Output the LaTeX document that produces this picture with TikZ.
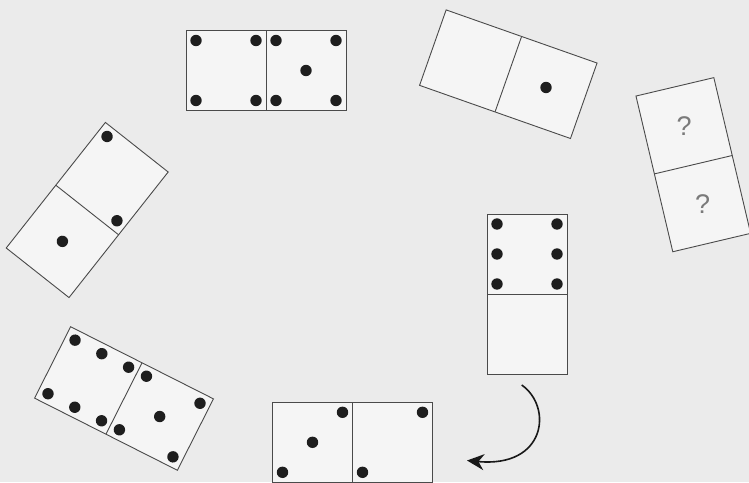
\documentclass[tikz,border=0pt]{standalone}
\usepackage{fontspec}
\newfontfamily\qfont{Liberation Sans}
\usetikzlibrary{arrows.meta}
\definecolor{bg}{HTML}{EBEBEB}
\definecolor{face}{HTML}{F5F5F5}
\definecolor{edge}{HTML}{4A4A4A}
\definecolor{pipc}{HTML}{1E1E1E}
\definecolor{qgray}{HTML}{7A7A7A}
\tikzset{
  dominobox/.style={draw=edge, fill=face, line width=0.9pt},
  divider/.style={draw=edge, line width=0.9pt},
  pip/.style={fill=pipc},
  qmark/.style={text=qgray, inner sep=0pt, font=\qfont\fontsize{27}{27}\selectfont},
  turnarrow/.style={-{Stealth[length=17pt,width=16pt]}, line width=1.6pt, draw=black!90}
}
\begin{document}
\begin{tikzpicture}[x=1pt,y=1pt]
\path[use as bounding box, fill=bg] (0,0) rectangle (749,482);

% domino 1: 4 | 5 (top)
\begin{scope}[shift={(266,411.5)}]
  \path[dominobox] (-80,-40) rectangle (80,40);
  \path[divider] (0,-40) -- (0,40);
  \foreach \p in {(-70,30),(-10,30),(-70,-30),(-10,-30),(10,30),(70,30),(40,0),(10,-30),(70,-30)}
    \fill[pip] \p circle (5.7);
\end{scope}

% domino 2: 0 | 1 (top right, tilted)
\begin{scope}[shift={(508.3,407.8)}, rotate=-19.4]
  \path[dominobox] (-80,-40) rectangle (80,40);
  \path[divider] (0,-40) -- (0,40);
  \fill[pip] (40,0) circle (5.7);
\end{scope}

% domino 3: ? / ? (right)
\begin{scope}[shift={(693.3,317.3)}, rotate=13.3]
  \path[dominobox] (-40,-80) rectangle (40,80);
  \path[divider] (-40,0) -- (40,0);
  \node[qmark] (q1) at (0,40) {?};
  \node[qmark] (q2) at (0,-40) {?};
\end{scope}

% domino 4: 2 / 1 (left, tilted)
\begin{scope}[shift={(87.2,272)}, rotate=-38.3]
  \path[dominobox] (-40,-80) rectangle (40,80);
  \path[divider] (-40,0) -- (40,0);
  \foreach \p in {(-30,70),(30,10),(0,-40)}
    \fill[pip] \p circle (5.7);
\end{scope}

% domino 5: 6 / 0 (vertical, middle right)
\begin{scope}[shift={(527,188)}]
  \path[dominobox] (-40,-80) rectangle (40,80);
  \path[divider] (-40,0) -- (40,0);
  \foreach \p in {(-30,70),(30,70),(-30,40),(30,40),(-30,10),(30,10)}
    \fill[pip] \p circle (5.7);
\end{scope}

% domino 6: 6 | 5 (bottom left, tilted)
\begin{scope}[shift={(124,83.5)}, rotate=-26.8]
  \path[dominobox] (-80,-40) rectangle (80,40);
  \path[divider] (0,-40) -- (0,40);
  \foreach \p in {(-70,30),(-40,30),(-10,30),(-70,-30),(-40,-30),(-10,-30),
                  (10,30),(70,30),(40,0),(10,-30),(70,-30)}
    \fill[pip] \p circle (5.7);
\end{scope}

% domino 7: 3 | 2 (bottom)
\begin{scope}[shift={(352.5,39.7)}]
  \path[dominobox] (-80,-40) rectangle (80,40);
  \path[divider] (0,-40) -- (0,40);
  \foreach \p in {(-10,30),(-40,0),(-70,-30),(70,30),(10,-30)}
    \fill[pip] \p circle (5.7);
\end{scope}

% curved arrow
\coordinate (arrowstart) at (521.7,97);
\coordinate (arrowend) at (467,21.5);
\draw[turnarrow] (arrowstart) .. controls (553,75) and (546,14) .. (arrowend);
\end{tikzpicture}
\end{document}
